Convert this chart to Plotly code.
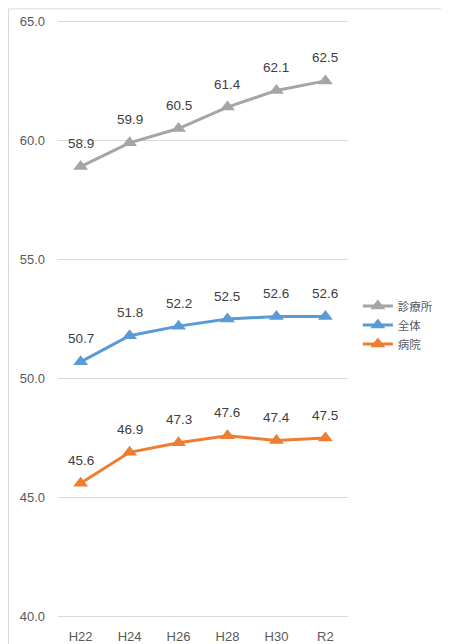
import plotly.graph_objects as go

categories = ["H22", "H24", "H26", "H28", "H30", "R2"]
clinic = [58.9, 59.9, 60.5, 61.4, 62.1, 62.5]
overall = [50.7, 51.8, 52.2, 52.5, 52.6, 52.6]
hospital = [45.6, 46.9, 47.3, 47.6, 47.4, 47.5]
y_ticks = [40, 45, 50, 55, 60, 65]
y_tick_labels = ["40.0", "45.0", "50.0", "55.0", "60.0", "65.0"]

series = [
    ("診療所", clinic, "#A5A5A5"),
    ("全体", overall, "#5B9BD5"),
    ("病院", hospital, "#ED7D31"),
]

FONT = "Liberation Sans, Noto Sans CJK JP, sans-serif"
CJK = "Noto Sans CJK JP, sans-serif"

fig = go.Figure()
annotations = []
for name, vals, color in series:
    fig.add_trace(go.Scatter(
        x=categories, y=vals, name=name, mode="lines+markers",
        line=dict(color=color, width=3),
        marker=dict(symbol="triangle-up", size=13, color=color),
        cliponaxis=False,
    ))
    for c, v in zip(categories, vals):
        annotations.append(dict(x=c, y=v, text=f"{v:.1f}", showarrow=False,
                                yshift=23, font=dict(size=13.5, color="#404040", family=FONT)))

PLOT_H = 600
fig.update_layout(
    width=449, height=644,
    margin=dict(l=50, r=109, t=10.6, b=33.4),
    paper_bgcolor="white", plot_bgcolor="white",
    font=dict(family=FONT, color="#595959", size=13),
    showlegend=True,
    legend=dict(x=1.034, y=0.49, xanchor="left", yanchor="middle",
                font=dict(size=11.5, color="#595959", family=CJK), itemwidth=30,
                tracegroupgap=0, bgcolor="rgba(0,0,0,0)"),
    xaxis=dict(type="category", showgrid=False, showline=False, zeroline=False,
               automargin=False,
               tickfont=dict(size=13, color="#595959"), ticks="", ticklabelstandoff=8),
    yaxis=dict(range=[39.9, 65.1], tickvals=y_ticks, ticktext=y_tick_labels,
               showgrid=True, gridcolor="#D9D9D9", gridwidth=1, automargin=False,
               zeroline=False, showline=False, ticks="", ticklabelstandoff=12,
               tickfont=dict(size=13, color="#595959")),
    annotations=annotations,
    shapes=[dict(type="rect", xref="paper", yref="paper",
                 x0=(8.5 - 58) / 290, x1=(480 - 58) / 290,
                 y0=-40 / PLOT_H, y1=1 + 10.1 / PLOT_H,
                 line=dict(color="#D9D9D9", width=1), layer="below")],
)

fig.write_html("out.html")
